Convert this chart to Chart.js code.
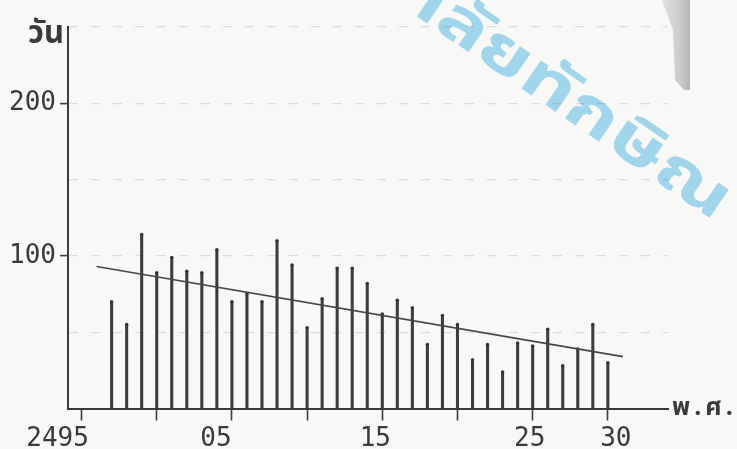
<!DOCTYPE html>
<html>
<head>
<meta charset="utf-8">
<script src="https://cdn.jsdelivr.net/npm/chart.js@4/dist/chart.umd.min.js"></script>
<style>
  html, body { margin: 0; padding: 0; background: #f8f8f6; }
  #wrap { width: 737px; height: 449px; position: relative; }
</style>
</head>
<body>
<div id="wrap"><canvas id="c" width="737" height="449"></canvas></div>
<script>
// Number of days per year, B.E. 2497 – 2530
const years = [2497, 2498, 2499, 2500, 2501, 2502, 2503, 2504, 2505, 2506,
               2507, 2508, 2509, 2510, 2511, 2512, 2513, 2514, 2515, 2516,
               2517, 2518, 2519, 2520, 2521, 2522, 2523, 2524, 2525, 2526,
               2527, 2528, 2529, 2530];
const days = [70, 55, 114, 89, 99, 90, 89, 104, 70, 75,
              70, 110, 94, 53, 72, 92, 92, 82, 62, 71,
              66, 42, 61, 55, 32, 42, 24, 43, 41, 52,
              28, 39, 55, 30];

// Linear trend, drawn between its two end years
const trendYears = [2496, 2531];
const trendDays = [93, 34];

// Axis labelling
const xTickYears = [2495, 2500, 2505, 2510, 2515, 2520, 2525, 2530];
const xLabelYears = [2495, 2505, 2515, 2525, 2530];
const xLabelTexts = ['2495', '05', '15', '25', '30'];
const yLabelValues = [100, 200];
const yTitle = 'วัน';
const xTitle = 'พ.ศ.';
const watermark = 'มหาวิทยาลัยทักษิณ';

const INK = '#3a3a3a';
const NUM_FONT = '26px "DejaVu Sans Mono", "Liberation Mono", monospace';
const THAI_FONT = '"Noto Sans Thai", "Noto Sans", "DejaVu Sans", sans-serif';

// Paper background, scan shadow, watermark and hand-lettered labels
const paperPlugin = {
  id: 'paper',
  beforeDraw(chart) {
    const ctx = chart.ctx;
    ctx.save();
    ctx.fillStyle = '#f8f8f6';
    ctx.fillRect(0, 0, chart.width, chart.height);

    // grey fold shadow at the top right
    const g = ctx.createLinearGradient(662, 0, 690, 0);
    g.addColorStop(0, 'rgba(200,200,200,0.5)');
    g.addColorStop(0.6, 'rgba(190,190,190,0.75)');
    g.addColorStop(1, 'rgba(165,165,165,0.8)');
    ctx.fillStyle = g;
    ctx.beginPath();
    ctx.moveTo(662, 0); ctx.lineTo(690, 0); ctx.lineTo(690, 90);
    ctx.lineTo(684, 90); ctx.lineTo(675, 80); ctx.lineTo(673, 30);
    ctx.closePath();
    ctx.fill();

    // watermark
    ctx.translate(722, 211);
    ctx.rotate(34.5 * Math.PI / 180);
    ctx.scale(1.35, 1);
    ctx.fillStyle = 'rgba(150,208,235,0.9)';
    ctx.font = 'bold 62px ' + THAI_FONT;
    ctx.textAlign = 'right';
    ctx.textBaseline = 'middle';
    ctx.fillText(watermark, 0, 0);
    ctx.restore();
  },
  afterDraw(chart) {
    const ctx = chart.ctx;
    const xs = chart.scales.x;
    const area = chart.chartArea;
    ctx.save();
    ctx.fillStyle = INK;
    ctx.font = NUM_FONT;
    ctx.textAlign = 'center';
    ctx.textBaseline = 'alphabetic';
    // year labels sit a little off their tick marks
    const nudge = [-24, -16, -7, -3, 8];
    xLabelYears.forEach((yr, i) => {
      ctx.fillText(xLabelTexts[i], xs.getPixelForValue(yr) + nudge[i], 446);
    });

    ctx.font = 'bold 31px ' + THAI_FONT;
    ctx.textAlign = 'left';
    ctx.textBaseline = 'alphabetic';
    ctx.fillText(yTitle, 28, 43);

    ctx.font = 'bold 25px ' + THAI_FONT;
    ctx.letterSpacing = '4px';
    ctx.textBaseline = 'middle';
    ctx.fillText(xTitle, area.right + 4, area.bottom + 1);
    ctx.restore();
  }
};

new Chart(document.getElementById('c'), {
  type: 'bar',
  data: {
    datasets: [
      {
        type: 'line',
        data: trendYears.map((x, i) => ({ x, y: trendDays[i] })),
        borderColor: '#454545',
        borderWidth: 1.6,
        pointRadius: 0,
        tension: 0,
        order: 0
      },
      {
        type: 'bar',
        data: years.map((x, i) => ({ x, y: days[i] })),
        backgroundColor: '#3c3c3c',
        borderWidth: 0,
        barThickness: 2.4,
        order: 1
      },
      {
        // pen dots at the top of each stem
        type: 'line',
        data: years.map((x, i) => ({ x, y: days[i] })),
        showLine: false,
        pointRadius: 1.7,
        pointBackgroundColor: '#333',
        pointBorderWidth: 0,
        order: 0
      }
    ]
  },
  options: {
    responsive: false,
    animation: false,
    events: [],
    layout: { padding: { left: 10, right: 69, top: 27, bottom: 28.5 } },
    plugins: { legend: { display: false }, tooltip: { enabled: false } },
    scales: {
      x: {
        type: 'linear',
        min: 2494.1,
        max: 2534,
        offset: false,
        afterBuildTicks(scale) { scale.ticks = xTickYears.map(v => ({ value: v })); },
        ticks: { display: false },
        grid: { offset: false, drawOnChartArea: false, drawTicks: true, tickLength: 12, tickWidth: 1.6, tickColor: INK },
        border: { display: true, color: INK, width: 2 }
      },
      y: {
        min: 0,
        max: 250,
        afterFit(scale) { scale.width = 58; },
        ticks: {
          stepSize: 50,
          padding: 4,
          color: INK,
          font: { family: '"DejaVu Sans Mono", "Liberation Mono", monospace', size: 26 },
          callback: v => (yLabelValues.includes(v) ? String(v) : '')
        },
        grid: {
          drawOnChartArea: true,
          tickLength: 8,
          tickWidth: 1.6,
          color: ctx => (ctx.tick && ctx.tick.value > 0 ? 'rgba(60,60,60,0.15)' : 'transparent'),
          tickColor: ctx => (ctx.tick && yLabelValues.includes(ctx.tick.value) ? INK : 'transparent'),
          lineWidth: 1.2
        },
        border: { display: true, color: INK, width: 2, dash: [9, 13] }
      }
    }
  },
  plugins: [paperPlugin]
});
</script>
</body>
</html>
